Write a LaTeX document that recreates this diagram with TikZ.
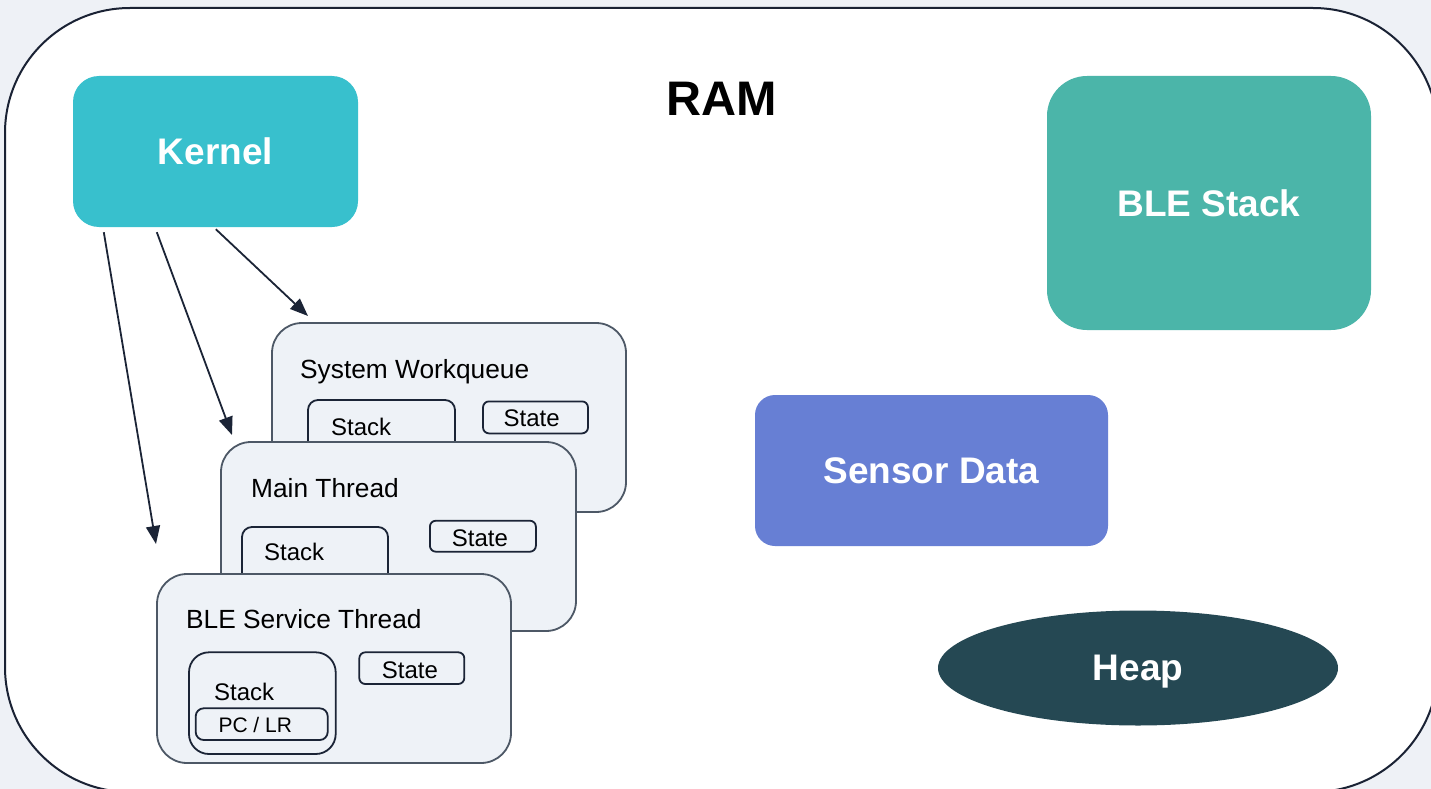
\documentclass[tikz,border=0pt]{standalone}
\usepackage{fontspec}
\setmainfont{Liberation Sans}
\usetikzlibrary{arrows.meta,shapes.geometric}

\definecolor{pagebg}{HTML}{EEF1F6}
\definecolor{ramline}{HTML}{1A2234}
\definecolor{kernelc}{HTML}{38C0CD}
\definecolor{blec}{HTML}{4BB5A9}
\definecolor{sensorc}{HTML}{677FD4}
\definecolor{heapc}{HTML}{254853}
\definecolor{threadfill}{HTML}{EEF2F7}
\definecolor{threadline}{HTML}{4D5866}
\definecolor{ink}{HTML}{1B2436}

\tikzset{
  region/.style={rectangle, rounded corners=#1, inner sep=0pt, fill, draw=none,
    text=white, font=\fontsize{37}{41}\selectfont\bfseries},
  threadbox/.style={rectangle, rounded corners=30pt, inner sep=0pt,
    fill=threadfill, draw=threadline, line width=1.8pt},
  slot/.style={rectangle, rounded corners=#1, inner sep=0pt,
    fill=threadfill, draw=ink, line width=1.8pt},
  caption/.style={anchor=base west, inner sep=0pt, text=black,
    font=\fontsize{24}{28}\selectfont},
  threadname/.style={caption, font=\fontsize{26.3}{30}\selectfont},
  karrow/.style={draw=ink, line width=1.8pt,
    -{Triangle[length=18pt,width=14pt]}},
}

\begin{document}
\begin{tikzpicture}[x=1pt,y=-1pt]
  \useasboundingbox (0,0) rectangle (1431,789);
  \fill[pagebg] (0,0) rectangle (1431,789);

  \begin{scope}
    \clip (0,0) rectangle (1431,789);

    % memory region outline
    \node[rectangle, rounded corners=125pt, inner sep=0pt, fill=white,
      draw=ramline, line width=2pt, minimum width=1433pt, minimum height=784pt]
      (ram) at (721.5,400) {};
    \node[inner sep=0pt, text depth=0pt, font=\fontsize{48.5}{52}\selectfont\bfseries]
      (ramlabel) at (722,99) {RAM};

    % large regions
    \node[region=26pt, fill=kernelc, minimum width=285pt, minimum height=151pt]
      (kernel) at (215.5,151.5) {Kernel};
    \node[region=40pt, fill=blec, minimum width=324pt, minimum height=254pt]
      (blestack) at (1209,203) {BLE Stack};
    \node[region=20pt, fill=sensorc, minimum width=353pt, minimum height=151pt]
      (sensor) at (931.5,470.5) {Sensor Data};
    \node[ellipse, inner sep=0pt, fill=heapc, text=white, text depth=0pt,
      font=\fontsize{37}{41}\selectfont\bfseries,
      minimum width=400pt, minimum height=115pt]
      (heap) at (1138,668) {Heap};

    % system workqueue thread
    \node[threadbox, minimum width=354pt, minimum height=189pt] (swq) at (449,417.5) {};
    \node[threadname] (swqlabel) at (300,378) {System Workqueue};
    \node[slot=10pt, minimum width=147pt, minimum height=70pt] (swqstack) at (381.5,435) {};
    \node[caption] (swqstacklabel) at (331,435) {Stack};
    \node[slot=6pt, minimum width=105pt, minimum height=32pt] (swqstate) at (535.5,417.4) {};
    \node[caption] (swqstatelabel) at (503.5,426.7) {State};

    % main thread
    \node[threadbox, minimum width=355pt, minimum height=189pt] (main) at (398.5,536.5) {};
    \node[threadname] (mainlabel) at (251,497) {Main Thread};
    \node[slot=10pt, minimum width=146pt, minimum height=73pt] (mainstack) at (315,563.5) {};
    \node[caption] (mainstacklabel) at (264,560.7) {Stack};
    \node[slot=6pt, minimum width=106pt, minimum height=31pt] (mainstate) at (482.9,536.2) {};
    \node[caption] (mainstatelabel) at (451.7,546.7) {State};

    % BLE service thread
    \node[threadbox, minimum width=354pt, minimum height=189pt] (bles) at (334,668.5) {};
    \node[threadname] (bleslabel) at (186,628) {BLE Service Thread};
    \node[slot=20pt, minimum width=146.7pt, minimum height=101.7pt] (blesstack) at (262.35,703.15) {};
    \node[caption] (blesstacklabel) at (214,700.7) {Stack};
    \node[slot=8pt, minimum width=132pt, minimum height=31.7pt] (pclr) at (261.7,724.15) {};
    \node[caption, font=\fontsize{21}{25}\selectfont] (pclrlabel) at (218.3,732.7) {PC / LR};
    \node[slot=6pt, minimum width=105pt, minimum height=31.7pt] (blesstate) at (411.8,668.15) {};
    \node[caption] (blesstatelabel) at (381.7,678.3) {State};

    % kernel schedules the threads
    \coordinate (kout1) at ([shift={(31pt,-5pt)}]kernel.south west);
    \coordinate (kout2) at ([shift={(84pt,-5pt)}]kernel.south west);
    \coordinate (kout3) at ([shift={(143pt,-2pt)}]kernel.south west);
    \coordinate (kin1) at (156,544);
    \coordinate (kin2) at (232,435);
    \coordinate (kin3) at (308,316);
    \draw[karrow] (kout1) -- (kin1);
    \draw[karrow] (kout2) -- (kin2);
    \draw[karrow] (kout3) -- (kin3);
  \end{scope}
\end{tikzpicture}
\end{document}
